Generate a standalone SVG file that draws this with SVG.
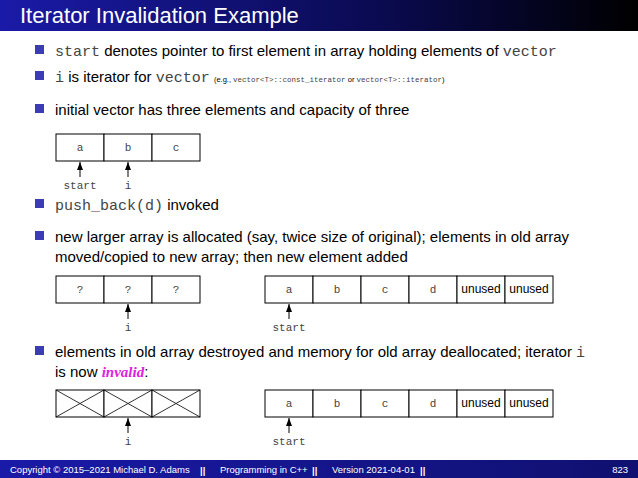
<svg xmlns="http://www.w3.org/2000/svg" width="638" height="478" viewBox="0 0 638 478">
<defs>
<linearGradient id="tg" x1="0" x2="1"><stop offset="0" stop-color="#1a1aa8"/><stop offset="0.6" stop-color="#0a0a50"/><stop offset="1" stop-color="#000"/></linearGradient>
<linearGradient id="fg" x1="0" x2="1"><stop offset="0" stop-color="#1a1aa8"/><stop offset="1" stop-color="#101070"/></linearGradient>
<marker id="ah" markerWidth="8" markerHeight="6" refX="8" refY="3" orient="auto" markerUnits="userSpaceOnUse" viewBox="0 0 8 6"><path d="M0,0 L8,3 L0,6 Z" fill="#000"/></marker>
</defs>
<style>
.t{font-family:"Liberation Sans",Arial,sans-serif;font-size:15px;fill:#000}
.m{font-family:"Liberation Mono","Courier New",monospace}
.c{font-family:"Liberation Mono","Courier New",monospace;font-size:11px;fill:#444;text-anchor:middle}
.u{font-family:"Liberation Sans",Arial,sans-serif;font-size:12px;fill:#000;text-anchor:middle}
.b{fill:#3c3cb4}
.cell{fill:#fff;stroke:#000;stroke-width:1}
.ar{stroke:#000;stroke-width:1;marker-end:url(#ah)}
.f{font-family:"Liberation Sans",Arial,sans-serif;font-size:9.5px;fill:#fff}
</style>
<rect x="0" y="0" width="638" height="31" fill="url(#tg)"/>
<text x="20" y="23" font-family="Liberation Sans,Arial,sans-serif" font-size="22" fill="#fff">Iterator Invalidation Example</text>
<g id="bullets">
<rect class="b" x="35" y="45" width="9" height="9"/>
<text class="t" x="55" y="56"><tspan class="m" fill="#444">start</tspan> denotes pointer to first element in array holding elements of <tspan class="m" fill="#444">vector</tspan></text>
<rect class="b" x="35" y="71" width="9" height="9"/>
<text class="t" x="55" y="82"><tspan class="m" fill="#444">i</tspan> is iterator for <tspan class="m" fill="#444">vector</tspan> <tspan font-size="7.5">(e.g., <tspan class="m" fill="#444">vector&lt;T&gt;::const_iterator</tspan> or <tspan class="m" fill="#444">vector&lt;T&gt;::iterator</tspan>)</tspan></text>
<rect class="b" x="35" y="104" width="9" height="9"/>
<text class="t" x="55" y="115">initial vector has three elements and capacity of three</text>
<rect class="b" x="35" y="199" width="9" height="9"/>
<text class="t" x="55" y="210"><tspan class="m" fill="#444">push_back(d)</tspan> invoked</text>
<rect class="b" x="35" y="231" width="9" height="9"/>
<text class="t" x="55" y="242">new larger array is allocated (say, twice size of original); elements in old array</text>
<text class="t" x="55" y="262">moved/copied to new array; then new element added</text>
<rect class="b" x="35" y="346" width="9" height="9"/>
<text class="t" x="55" y="357">elements in old array destroyed and memory for old array deallocated; iterator <tspan class="m" fill="#444">i</tspan></text>
<text class="t" x="55" y="377">is now <tspan font-family="Liberation Serif,serif" font-style="italic" font-weight="bold" fill="#e020e0">invalid</tspan>:</text>
</g>
<g id="array1">
<rect class="cell" x="56" y="134" width="48" height="27"/><rect class="cell" x="104" y="134" width="48" height="27"/><rect class="cell" x="152" y="134" width="48" height="27"/>
<text class="c" x="80" y="151">a</text><text class="c" x="128" y="151">b</text><text class="c" x="176" y="151">c</text>
</g>
<g id="array2">
<rect class="cell" x="56" y="276" width="48" height="27"/><rect class="cell" x="104" y="276" width="48" height="27"/><rect class="cell" x="152" y="276" width="48" height="27"/>
<text class="c" x="80" y="293">?</text><text class="c" x="128" y="293">?</text><text class="c" x="176" y="293">?</text>
</g>
<g id="array3">
<rect class="cell" x="265" y="276" width="48" height="27"/><rect class="cell" x="313" y="276" width="48" height="27"/><rect class="cell" x="361" y="276" width="48" height="27"/><rect class="cell" x="409" y="276" width="48" height="27"/><rect class="cell" x="457" y="276" width="48" height="27"/><rect class="cell" x="505" y="276" width="48" height="27"/>
<text class="c" x="289" y="293">a</text><text class="c" x="337" y="293">b</text><text class="c" x="385" y="293">c</text><text class="c" x="433" y="293">d</text><text class="u" x="481" y="293">unused</text><text class="u" x="529" y="293">unused</text>
</g>
<g id="array4">
<rect class="cell" x="56" y="390" width="48" height="27"/><rect class="cell" x="104" y="390" width="48" height="27"/><rect class="cell" x="152" y="390" width="48" height="27"/>
<path d="M56,390 L104,417 M104,390 L56,417 M104,390 L152,417 M152,390 L104,417 M152,390 L200,417 M200,390 L152,417" stroke="#000" stroke-width="0.8"/>
</g>
<g id="array5">
<rect class="cell" x="265" y="390" width="48" height="27"/><rect class="cell" x="313" y="390" width="48" height="27"/><rect class="cell" x="361" y="390" width="48" height="27"/><rect class="cell" x="409" y="390" width="48" height="27"/><rect class="cell" x="457" y="390" width="48" height="27"/><rect class="cell" x="505" y="390" width="48" height="27"/>
<text class="c" x="289" y="407">a</text><text class="c" x="337" y="407">b</text><text class="c" x="385" y="407">c</text><text class="c" x="433" y="407">d</text><text class="u" x="481" y="407">unused</text><text class="u" x="529" y="407">unused</text>
</g>
<g id="connectors">
<line class="ar" x1="80" y1="177" x2="80" y2="162"/>
<line class="ar" x1="128" y1="177" x2="128" y2="162"/>
<line class="ar" x1="128" y1="319" x2="128" y2="304"/>
<line class="ar" x1="289" y1="319" x2="289" y2="304"/>
<line class="ar" x1="128" y1="433" x2="128" y2="418"/>
<line class="ar" x1="289" y1="433" x2="289" y2="418"/>
</g>
<g id="labels">
<text class="c" x="80" y="189">start</text><text class="c" x="128" y="189">i</text>
<text class="c" x="128" y="331">i</text><text class="c" x="289" y="331">start</text>
<text class="c" x="128" y="445">i</text><text class="c" x="289" y="445">start</text>
</g>
<rect x="0" y="460" width="638" height="18" fill="url(#fg)"/>
<text class="f" x="10" y="473">Copyright © 2015–2021 Michael D. Adams</text>
<text class="f" x="200" y="474" font-weight="bold" font-size="12">||</text>
<text class="f" x="220" y="473">Programming in C++</text>
<text class="f" x="312" y="474" font-weight="bold" font-size="12">||</text>
<text class="f" x="332" y="473">Version 2021-04-01</text>
<text class="f" x="420" y="474" font-weight="bold" font-size="12">||</text>
<text class="f" x="628" y="473" text-anchor="end">823</text>
</svg>
